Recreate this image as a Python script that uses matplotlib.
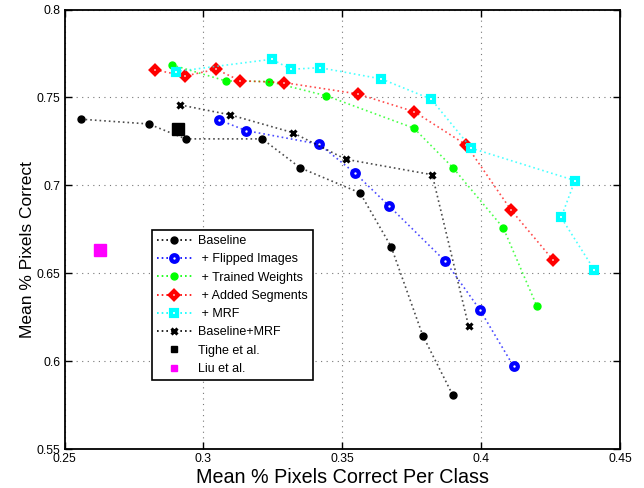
import matplotlib
matplotlib.use("Agg")
import matplotlib.pyplot as plt
from matplotlib.ticker import FormatStrFormatter

plt.rcParams['font.family'] = ['Liberation Sans', 'DejaVu Sans']

# data
baseline_x = [0.2559, 0.2803, 0.2936, 0.3212, 0.3349, 0.3564, 0.3676, 0.3790, 0.3898]
baseline_y = [0.7376, 0.7349, 0.7264, 0.7264, 0.7099, 0.6957, 0.6651, 0.6145, 0.5806]

flipped_x = [0.3056, 0.3154, 0.3417, 0.3546, 0.3667, 0.3871, 0.3995, 0.4117]
flipped_y = [0.7372, 0.7311, 0.7234, 0.7069, 0.6885, 0.6568, 0.6293, 0.5970]

weights_x = [0.2887, 0.3080, 0.3238, 0.3443, 0.3758, 0.3898, 0.4080, 0.4200]
weights_y = [0.7685, 0.7594, 0.7590, 0.7509, 0.7325, 0.7101, 0.6757, 0.6315]

segments_x = [0.2827, 0.2935, 0.3046, 0.3132, 0.3291, 0.3555, 0.3759, 0.3946, 0.4107, 0.4258]
segments_y = [0.7656, 0.7622, 0.7660, 0.7595, 0.7584, 0.7520, 0.7419, 0.7230, 0.6861, 0.6577]

mrf_x = [0.2900, 0.3246, 0.3316, 0.3420, 0.3641, 0.3820, 0.3965, 0.4338, 0.4288, 0.4407]
mrf_y = [0.7647, 0.7717, 0.7660, 0.7669, 0.7605, 0.7490, 0.7211, 0.7027, 0.6817, 0.6520]

basemrf_x = [0.2917, 0.3096, 0.3321, 0.3513, 0.3824, 0.3955]
basemrf_y = [0.7457, 0.7401, 0.7300, 0.7148, 0.7060, 0.6198]

tighe_x, tighe_y = [0.2907], [0.7321]
liu_x, liu_y = [0.2627], [0.6630]

labels = ['Baseline', ' + Flipped Images', ' + Trained Weights', ' + Added Segments',
          ' + MRF', 'Baseline+MRF', 'Tighe et al.', 'Liu et al.']

DOT = (0, (1, 1.8))
LW = 1.2
LA = 0.7   # dotted lines look lighter than the markers


def series(x, y, color, **mk):
    # dotted line and markers drawn separately so the line can be lighter
    ax.plot(x, y, color=color, linestyle=DOT, linewidth=LW, alpha=LA)
    ax.plot(x, y, linestyle='none', **mk)
    return ax.plot([], [], color=color, linestyle=DOT, linewidth=LW, **mk)[0]


fig = plt.figure(figsize=(6.44, 4.88), dpi=100)
ax = fig.add_axes([64.5 / 644, 1 - 449 / 488, 555.5 / 644, 439.5 / 488])

ax.grid(True, linestyle=(0, (1, 4)), color='#777777', linewidth=0.8)
ax.set_axisbelow(True)

h = []
h.append(series(baseline_x, baseline_y, 'black', marker='o', markersize=5,
                markerfacecolor='black', markeredgecolor='black'))
h.append(series(flipped_x, flipped_y, '#0000ff', marker='o', markersize=4.8,
                markeredgewidth=3.0, markerfacecolor='white', markeredgecolor='#0000ff'))
h.append(series(weights_x, weights_y, '#00ff00', marker='o', markersize=5,
                markerfacecolor='#00ff00', markeredgecolor='#00ff00'))
h.append(series(segments_x, segments_y, '#ff0000', marker='D', markersize=4.2,
                markeredgewidth=3.0, markerfacecolor='white', markeredgecolor='#ff0000'))
h.append(series(mrf_x, mrf_y, '#00ffff', marker='s', markersize=4.4,
                markeredgewidth=3.0, markerfacecolor='white', markeredgecolor='#00ffff'))
h.append(series(basemrf_x, basemrf_y, 'black', marker='x', markersize=4.5,
                markeredgewidth=2.2, markeredgecolor='black'))
h += ax.plot(tighe_x, tighe_y, linestyle='none', marker='s', markersize=8.5,
             color='black')
h += ax.plot(liu_x, liu_y, linestyle='none', marker='s', markersize=8.5,
             color='#ff00ff')

ax.set_xlim(0.25, 0.45)
ax.set_ylim(0.55, 0.8)
ax.set_xticks([0.25, 0.3, 0.35, 0.4, 0.45])
ax.set_yticks([0.55, 0.6, 0.65, 0.7, 0.75, 0.8])
ax.xaxis.set_major_formatter(FormatStrFormatter('%g'))
ax.yaxis.set_major_formatter(FormatStrFormatter('%g'))
ax.tick_params(direction='in', top=True, right=True, length=5, width=1,
               labelsize=8.8, pad=3)
for s in ax.spines.values():
    s.set_linewidth(1.3)

ax.set_xlabel('Mean % Pixels Correct Per Class', fontsize=14.2, labelpad=2)
ax.set_ylabel('Mean % Pixels Correct', fontsize=12.5)
ax.yaxis.set_label_coords(-0.054, 0.453)

leg = ax.legend(h, labels, loc='upper left', bbox_to_anchor=(0.1575, 0.498),
                borderaxespad=0, fontsize=9, fancybox=False, framealpha=1,
                edgecolor='black', labelspacing=0.5, handlelength=2.8,
                handletextpad=0.5, borderpad=0.4)
leg.get_frame().set_linewidth(1.2)
for lh in leg.legend_handles[-2:]:
    lh.set_markersize(4)

fig.savefig('out.png', dpi=100)
